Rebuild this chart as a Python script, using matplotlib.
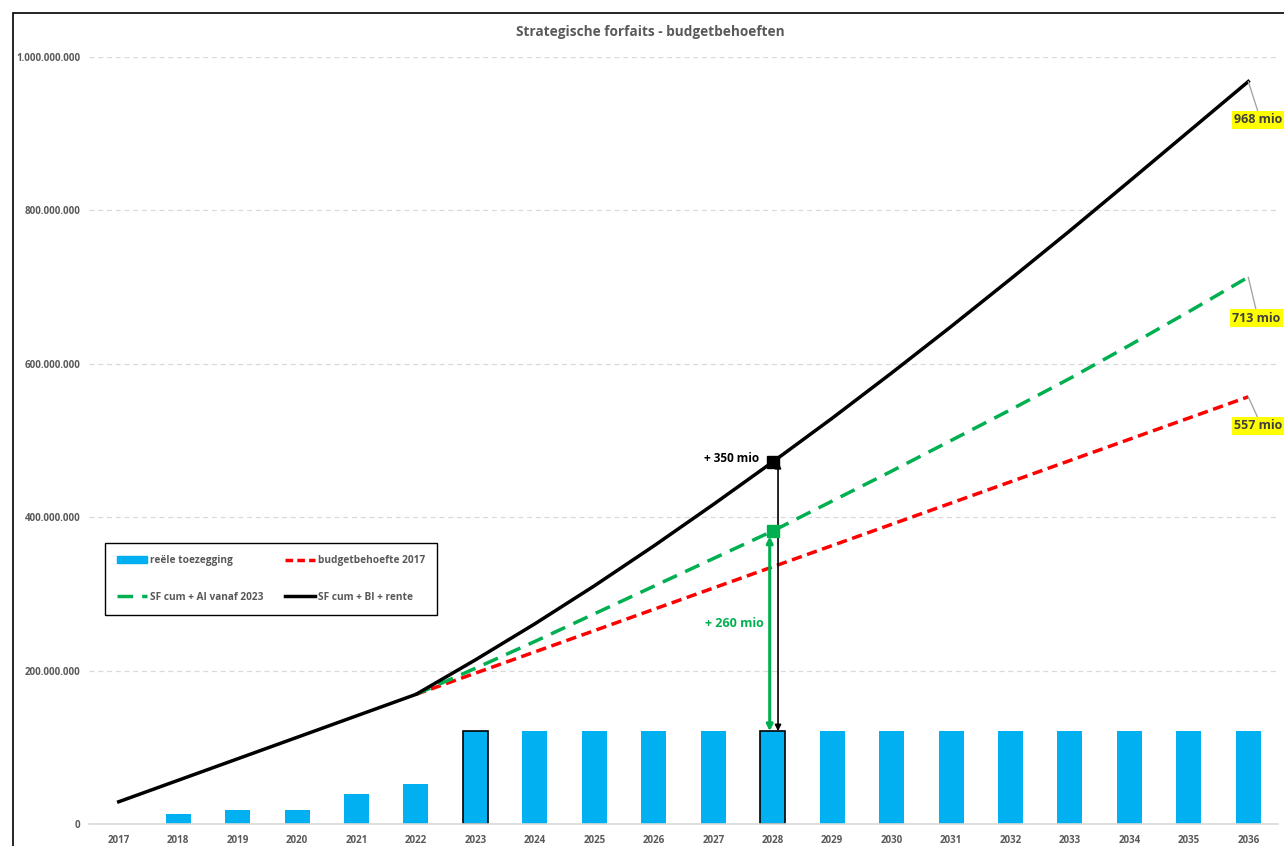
import matplotlib
matplotlib.use("Agg")
import matplotlib.pyplot as plt
from matplotlib.patches import Rectangle
from matplotlib.lines import Line2D
from matplotlib.ticker import FuncFormatter

years = list(range(2017, 2037))
toezegging = [0, 13e6, 18e6, 18e6, 39e6, 52e6] + [121e6] * 14
black_years = years
black_vals = [29e6, 57e6, 85e6, 113e6, 141e6, 169e6, 214e6, 261e6, 310.5e6, 362.5e6,
              416.5e6, 472e6, 529e6, 588e6, 648.5e6, 710.5e6, 773.5e6, 838e6, 903e6, 968e6]
green_years = list(range(2022, 2037))
green_vals = [169e6, 203e6, 238e6, 274e6, 310e6, 346e6, 382e6, 421e6, 460e6, 500e6,
              540e6, 581e6, 624e6, 668e6, 713e6]
red_years = list(range(2022, 2037))
red_vals = [169e6, 196.7e6, 224.4e6, 252.1e6, 279.9e6, 307.6e6, 335.3e6, 363e6, 390.7e6,
            418.4e6, 446.1e6, 473.9e6, 501.6e6, 529.3e6, 557e6]
highlight_years = [2023, 2028]
legend_labels = ["reële toezegging", "SF cum + AI vanaf 2023", "budgetbehoefte 2017", "SF cum + BI + rente"]
title = "Strategische forfaits - budgetbehoeften"

BLUE = "#00B0F0"
GREEN = "#00B050"
RED = "#FF0000"
GREY = "#595959"

plt.rcParams['font.family'] = ['Open Sans', 'DejaVu Sans']

W, H = 1284, 846
fig = plt.figure(figsize=(W / 100, H / 100), dpi=100)
ax = fig.add_axes([89 / W, 1 - 824 / H, (1278 - 89) / W, (824 - 57) / H])

# outer border
fig.patches.append(Rectangle((13 / W, -0.1), 1.2, 1 - 13 / H + 0.1, transform=fig.transFigure,
                             fill=False, edgecolor="black", linewidth=1.2))

# bars
bars = ax.bar(years, toezegging, width=0.42, color=BLUE, zorder=2)
for b, y in zip(bars, years):
    if y in highlight_years:
        b.set_edgecolor("black")
        b.set_linewidth(1.2)

ax.plot(red_years, red_vals, color=RED, lw=2.5, dashes=(3, 1.6), zorder=3)
ax.plot(green_years, green_vals, color=GREEN, lw=2.5, dashes=(4.5, 2.6), zorder=3)
ax.plot(black_years, black_vals, color="black", lw=2.5, zorder=4)

# markers at 2028
i_b = black_years.index(2028)
i_g = green_years.index(2028)
i_t = years.index(2028)
ax.plot([2028], [black_vals[i_b]], marker="s", ms=9, color="black", zorder=6)
ax.plot([2028], [green_vals[i_g]], marker="s", ms=8.5, color=GREEN, zorder=6)

# double arrows
ax.annotate("", xy=(2028.09, black_vals[i_b]), xytext=(2028.09, toezegging[i_t]),
            arrowprops=dict(arrowstyle="<|-|>", color="black", lw=1.2, shrinkA=0, shrinkB=0,
                            mutation_scale=9), zorder=5)
ax.annotate("", xy=(2027.95, green_vals[i_g] - 7e6), xytext=(2027.95, toezegging[i_t]),
            arrowprops=dict(arrowstyle="<|-|>", color=GREEN, lw=2.2, shrinkA=0, shrinkB=0,
                            mutation_scale=9), zorder=5)
ax.text(2027.78, black_vals[i_b] + 5e6, "+ 350 mio", ha="right", va="center",
        fontsize=8.5, fontweight="bold", color="black")
ax.text(2027.35, 262e6, "+ 260 mio", ha="center", va="center",
        fontsize=9, fontweight="bold", color=GREEN)

# end labels
def end_label(val, dx, dy):
    ax.annotate(f"{int(round(val / 1e6))} mio", xy=(2036, val), xytext=(dx, dy),
                textcoords="offset pixels", ha="left", va="center",
                fontsize=9, fontweight="bold", color="#404040",
                bbox=dict(boxstyle="square,pad=0.2", fc="yellow", ec="none"),
                arrowprops=dict(arrowstyle="-", color="#A6A6A6", lw=1, shrinkA=0, shrinkB=0,
                                relpos=(0.5, 1.0)), zorder=7, annotation_clip=False)

end_label(black_vals[-1], -14, -38)
end_label(green_vals[-1], -16, -41)
end_label(red_vals[-1], -14, -29)

ax.set_xlim(2016.5, 2036.5)
ax.set_ylim(0, 1e9)
ax.set_xticks(years)
ax.set_xticklabels([str(y) for y in years])
ax.set_yticks([0, 200e6, 400e6, 600e6, 800e6, 1000e6])
ax.yaxis.set_major_formatter(FuncFormatter(lambda v, p: f"{int(v):,}".replace(",", ".")))
ax.tick_params(axis="both", length=0, labelsize=7, labelcolor=GREY)
for lab in ax.get_xticklabels() + ax.get_yticklabels():
    lab.set_fontweight("bold")
ax.tick_params(axis="x", pad=8)
ax.tick_params(axis="y", pad=6)
ax.grid(axis="y", color="#D9D9D9", linestyle=(0, (4, 3)), lw=0.9, zorder=0)
ax.set_axisbelow(True)
for s in ["left", "right", "top"]:
    ax.spines[s].set_visible(False)
ax.spines["bottom"].set_color("#D9D9D9")
ax.spines["bottom"].set_linewidth(1.2)

handles = [Rectangle((0, 0), 1, 1, color=BLUE),
           Line2D([], [], color=GREEN, lw=2.5, dashes=(4.5, 2.6)),
           Line2D([], [], color=RED, lw=2.5, dashes=(2.2, 1.2)),
           Line2D([], [], color="black", lw=2.5)]
leg = ax.legend(handles, legend_labels, ncol=2, loc="upper left",
                bbox_to_anchor=((105 - 89) / (1278 - 89), (824 - 543) / (824 - 57)),
                frameon=True, fancybox=False, edgecolor="black", framealpha=1,
                prop={"size": 7.3, "weight": "bold"}, labelspacing=2.5, columnspacing=2.2,
                handlelength=2.9, handletextpad=0.3, borderpad=1.2, borderaxespad=0)
leg.get_frame().set_linewidth(1.0)
for t in leg.get_texts():
    t.set_color(GREY)

fig.text(650 / W, 1 - 32 / H, title, ha="center", va="center", fontsize=9.8,
         fontweight="bold", color=GREY)

fig.savefig("out.png", dpi=100)
